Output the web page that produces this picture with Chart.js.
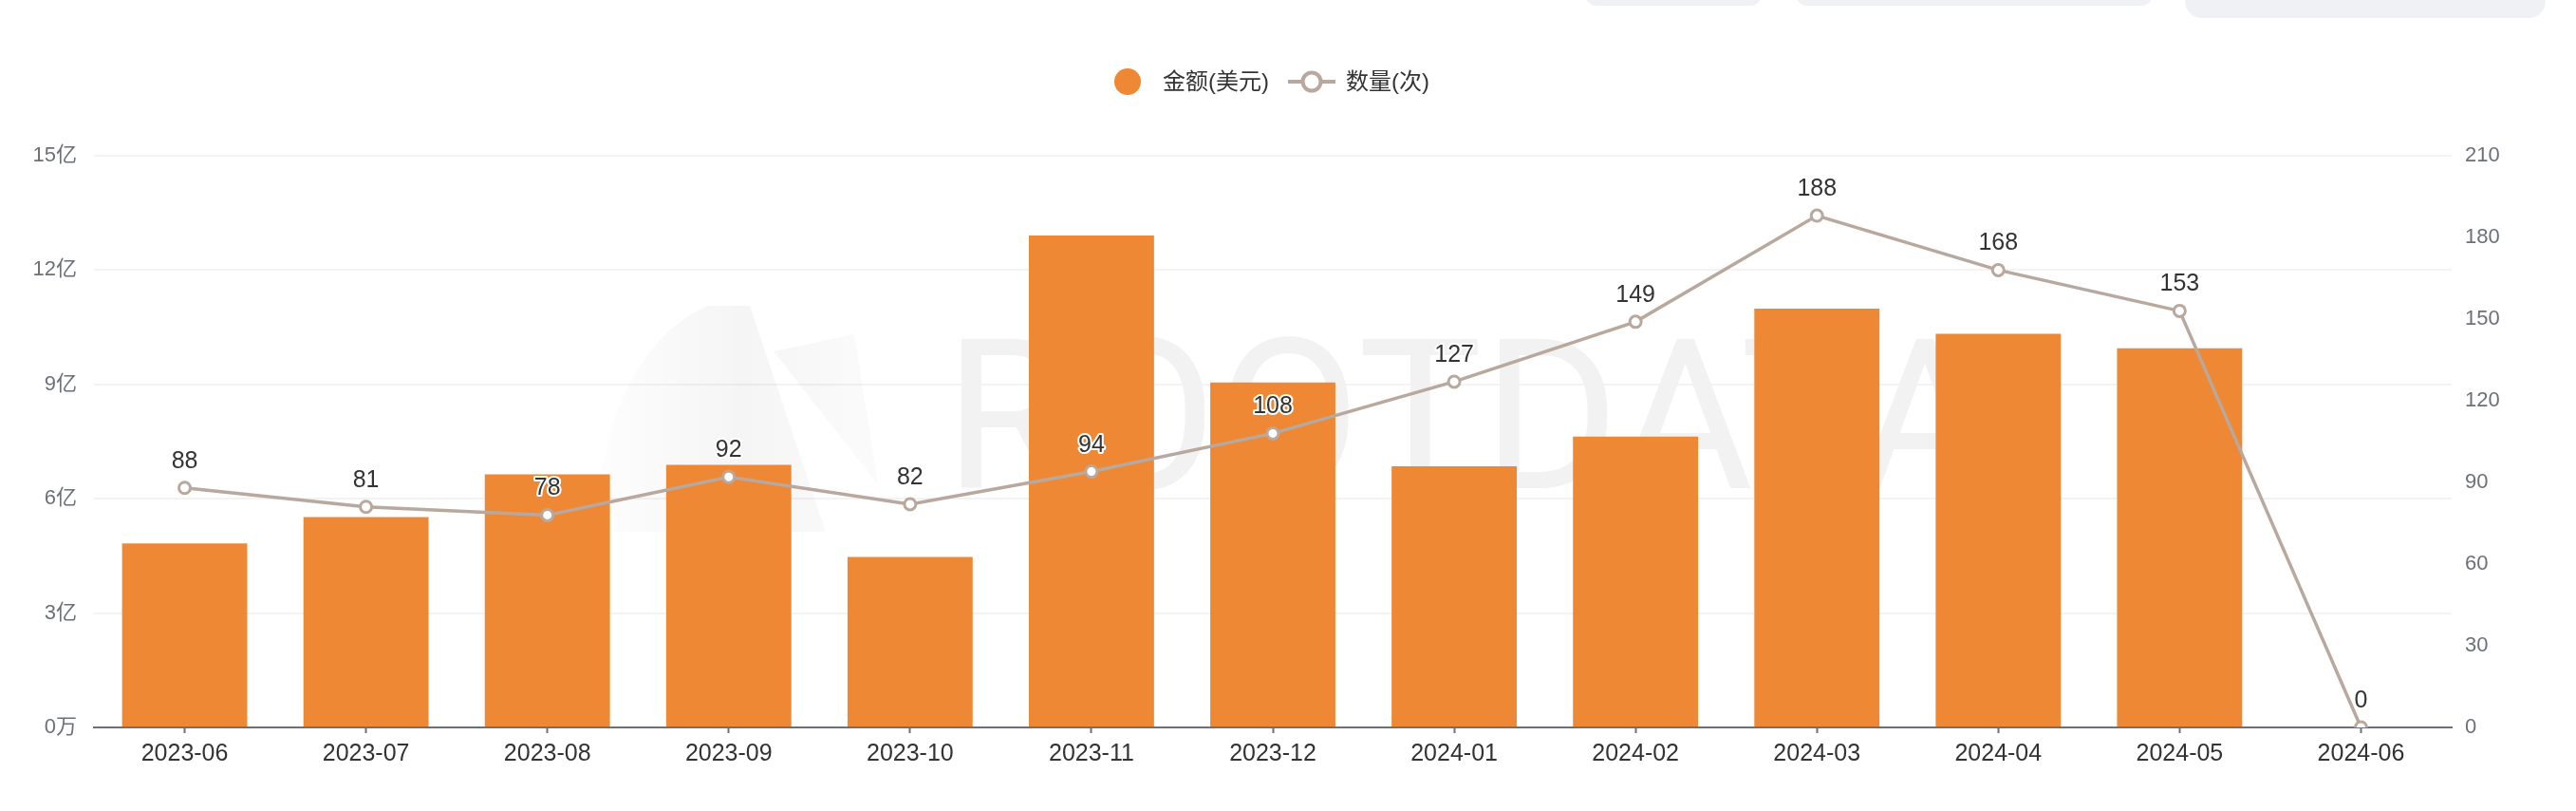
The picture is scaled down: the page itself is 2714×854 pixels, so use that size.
<!DOCTYPE html>
<html>
<head>
<meta charset="utf-8">
<script src="https://cdn.jsdelivr.net/npm/chart.js@4"></script>
<style>
    html, body { margin: 0; padding: 0; background: #fff; }
    #wrap { position: relative; width: 2714px; height: 854px; overflow: hidden; }
    .tab { position: absolute; top: -20px; background: #F0F1F4; border-radius: 12px; }
</style>
</head>
<body>
<div id="wrap">
    <div class="tab" style="left:1670px;width:186px;height:26px;"></div>
    <div class="tab" style="left:1892px;width:376px;height:26px;"></div>
    <div class="tab" style="left:2302px;width:380px;height:39px;border-radius:18px;"></div>
    <canvas id="myChart" width="2714" height="854"></canvas>
</div>
<script>
const months = [
    '2023-06', '2023-07', '2023-08', '2023-09', '2023-10', '2023-11', '2023-12',
    '2024-01', '2024-02', '2024-03', '2024-04', '2024-05', '2024-06',
];
// 金额(美元)
const amountUSD = [
    483000000, 552000000, 664000000, 689000000, 447000000, 1291000000, 905000000,
    685000000, 763000000, 1099000000, 1033000000, 995000000, 0,
];
// 数量(次)
const dealCount = [88, 81, 78, 92, 82, 94, 108, 127, 149, 188, 168, 153, 0];

const amountMax = 1500000000;
const amountStep = 300000000;
const countMax = 210;
const countStep = 30;

const seriesNames = ['金额(美元)', '数量(次)'];

const barColor = '#EE8834';
const lineColor = '#B8A89D';
const fontFamily = "'Liberation Sans', 'Noto Sans CJK SC', sans-serif";

Chart.defaults.font.family = fontFamily;

// faint watermark behind the marks
const watermark = {
    id: 'watermark',
    beforeDatasetsDraw(chart) {
        const ctx = chart.ctx;
        ctx.save();
        const g = ctx.createLinearGradient(600, 0, 900, 0);
        g.addColorStop(0, 'rgba(0,0,0,0.0)');
        g.addColorStop(0.6, 'rgba(0,0,0,0.04)');
        g.addColorStop(1, 'rgba(0,0,0,0.02)');
        ctx.fillStyle = g;
        ctx.beginPath();
        ctx.moveTo(625, 560);
        ctx.quadraticCurveTo(640, 370, 745, 322);
        ctx.lineTo(790, 322);
        ctx.lineTo(870, 560);
        ctx.closePath();
        ctx.fill();
        ctx.beginPath();
        ctx.moveTo(815, 370);
        ctx.lineTo(900, 352);
        ctx.lineTo(925, 510);
        ctx.closePath();
        ctx.fill();
        ctx.fillStyle = '#F2F2F2';
        ctx.font = "400 220px Roboto";
        ctx.textBaseline = 'alphabetic';
        ctx.fillText('ROOTDATA', 995, 514);
        ctx.restore();
    },
};

// value labels on the line points
const pointLabels = {
    id: 'pointLabels',
    afterDatasetsDraw(chart) {
        const ctx = chart.ctx;
        const meta = chart.getDatasetMeta(1);
        ctx.save();
        ctx.font = '25px ' + fontFamily;
        ctx.textAlign = 'center';
        ctx.textBaseline = 'alphabetic';
        ctx.lineJoin = 'round';
        meta.data.forEach((pt, i) => {
            const txt = String(dealCount[i]);
            ctx.lineWidth = 4;
            ctx.strokeStyle = '#fff';
            ctx.strokeText(txt, pt.x, pt.y - 21);
            ctx.fillStyle = '#333';
            ctx.fillText(txt, pt.x, pt.y - 21);
        });
        ctx.restore();
    },
};

// legend: orange dot + line with hollow circle
const topLegend = {
    id: 'topLegend',
    afterDraw(chart) {
        const ctx = chart.ctx;
        const y = 86;
        ctx.save();
        ctx.fillStyle = barColor;
        ctx.beginPath();
        ctx.arc(1188, y, 14, 0, Math.PI * 2);
        ctx.fill();
        ctx.font = '24px ' + fontFamily;
        ctx.fillStyle = '#333';
        ctx.textBaseline = 'middle';
        ctx.fillText(seriesNames[0], 1225, y + 1);

        ctx.strokeStyle = lineColor;
        ctx.lineWidth = 4;
        ctx.beginPath();
        ctx.moveTo(1357, y);
        ctx.lineTo(1407, y);
        ctx.stroke();
        ctx.fillStyle = '#fff';
        ctx.beginPath();
        ctx.arc(1382, y, 9.5, 0, Math.PI * 2);
        ctx.fill();
        ctx.stroke();
        ctx.fillStyle = '#333';
        ctx.fillText(seriesNames[1], 1418, y + 1);
        ctx.restore();
    },
};

const ctx = document.getElementById('myChart').getContext('2d');

const myChart = new Chart(ctx, {
    type: 'bar',
    data: {
        labels: months,
        datasets: [
            {
                type: 'bar',
                label: seriesNames[0],
                data: amountUSD,
                backgroundColor: barColor,
                yAxisID: 'y',
                categoryPercentage: 1,
                barPercentage: 0.69,
                order: 1,
            },
            {
                type: 'line',
                label: seriesNames[1],
                data: dealCount,
                borderColor: lineColor,
                borderWidth: 3.5,
                pointBackgroundColor: '#fff',
                pointBorderColor: lineColor,
                pointBorderWidth: 3,
                pointRadius: 6,
                tension: 0,
                yAxisID: 'y1',
                order: 0,
            },
        ],
    },
    options: {
        responsive: false,
        animation: false,
        devicePixelRatio: 1,
        layout: {
            padding: { top: 164, left: 0, right: 0, bottom: 0 },
        },
        plugins: {
            legend: { display: false },
            tooltip: { enabled: false },
        },
        scales: {
            x: {
                afterFit: (scale) => { scale.height = 88; },
                grid: {
                    offset: false,
                    drawOnChartArea: false,
                    drawTicks: true,
                    tickLength: 6,
                    tickWidth: 2,
                    tickColor: '#6E7079',
                },
                border: { display: true, color: '#6E7079', width: 2 },
                ticks: {
                    color: '#333',
                    padding: 7,
                    maxRotation: 0,
                    autoSkip: false,
                    font: { size: 25 },
                },
            },
            y: {
                position: 'left',
                min: 0,
                max: amountMax,
                afterFit: (scale) => { scale.width = 99; },
                grid: {
                    color: '#F3F3F3',
                    lineWidth: 2,
                    drawTicks: false,
                },
                border: { display: false },
                ticks: {
                    stepSize: amountStep,
                    padding: 18,
                    color: '#6E7079',
                    font: { size: 22 },
                    callback: (v) => v === 0 ? '0万' : (v / 100000000) + '亿',
                },
            },
            y1: {
                position: 'right',
                min: 0,
                max: countMax,
                afterFit: (scale) => { scale.width = 131; },
                grid: { display: false, drawTicks: false },
                border: { display: false },
                ticks: {
                    stepSize: countStep,
                    padding: 14,
                    color: '#6E7079',
                    font: { size: 22 },
                },
            },
        },
    },
    plugins: [watermark, pointLabels, topLegend],
});
</script>
</body>
</html>
